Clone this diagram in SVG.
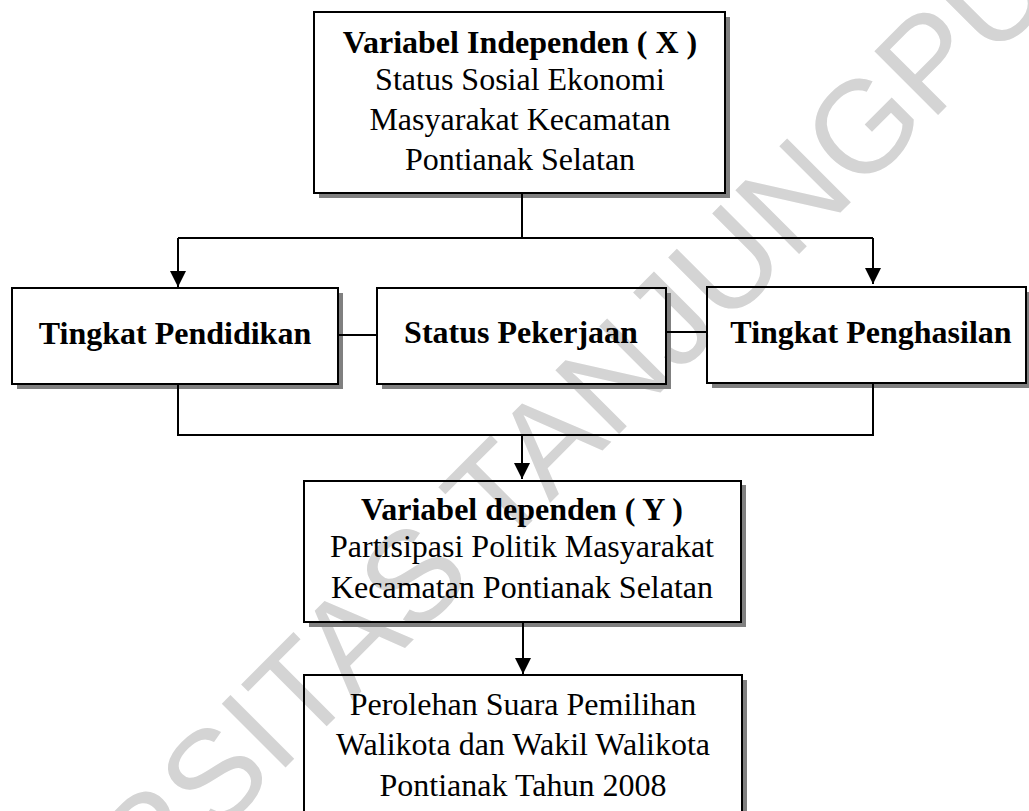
<svg xmlns="http://www.w3.org/2000/svg" width="1029" height="811" viewBox="0 0 1029 811">
<style>
.box{fill:none;stroke:#000;stroke-width:2}
.sh{fill:#808080}
.t{font-family:"Liberation Serif","Times New Roman",serif;font-size:32px;fill:#000;text-anchor:middle}
.b{font-weight:bold}
.c{fill:none;stroke:#000;stroke-width:2}
.wm{font-family:"Liberation Sans",Arial,sans-serif;font-size:131px;fill:#d4d4d4;text-anchor:middle}
</style>
<defs>
<marker id="ah" markerUnits="userSpaceOnUse" markerWidth="16" markerHeight="16" viewBox="0 0 16 16" refX="16" refY="8" orient="auto">
<path d="M0,0 L16,8 L0,16 Z" fill="#000"/>
</marker>
</defs>
<rect width="1029" height="811" fill="#fff"/>
<text class="wm" transform="translate(526.5,526.5) rotate(-45)">UNIVERSITAS TANJUNGPURA</text>
<g id="x-box">
<path class="sh" d="M725,17 H730 V198 H319 V193 H725 Z"/>
<rect class="box" x="314" y="12" width="411" height="181"/>
<text class="t b" x="520" y="53">Variabel Independen ( X )</text>
<text class="t" x="520" y="90">Status Sosial Ekonomi</text>
<text class="t" x="520" y="130">Masyarakat Kecamatan</text>
<text class="t" x="520" y="170">Pontianak Selatan</text>
</g>
<g id="pendidikan">
<path class="sh" d="M338,293 H343 V389 H17 V384 H338 Z"/>
<rect class="box" x="12" y="288" width="326" height="96"/>
<text class="t b" x="175" y="344">Tingkat Pendidikan</text>
</g>
<g id="pekerjaan">
<path class="sh" d="M666,293 H671 V389 H382 V384 H666 Z"/>
<rect class="box" x="377" y="288" width="289" height="96"/>
<text class="t b" x="521" y="343">Status Pekerjaan</text>
</g>
<g id="penghasilan">
<path class="sh" d="M1026,292 H1031 V388 H712 V383 H1026 Z"/>
<rect class="box" x="707" y="287" width="319" height="96"/>
<text class="t b" x="871" y="343">Tingkat Penghasilan</text>
</g>
<g id="y-box">
<path class="sh" d="M741,485 H746 V627 H309 V622 H741 Z"/>
<rect class="box" x="304" y="481" width="437" height="141"/>
<text class="t b" x="522" y="520">Variabel dependen ( Y )</text>
<text class="t" x="522" y="557">Partisipasi Politik Masyarakat</text>
<text class="t" x="522" y="598">Kecamatan Pontianak Selatan</text>
</g>
<g id="hasil">
<path class="sh" d="M742,680 H747 V812 H742 Z"/>
<rect class="box" x="304" y="675" width="438" height="150"/>
<text class="t" x="523" y="715">Perolehan Suara Pemilihan</text>
<text class="t" x="523" y="755">Walikota dan Wakil Walikota</text>
<text class="t" x="523" y="796">Pontianak Tahun 2008</text>
</g>
<g id="connectors">
<path class="c" d="M522,193 V238"/>
<path class="c" d="M178,238 H873"/>
<path class="c" d="M178,238 V287" marker-end="url(#ah)"/>
<path class="c" d="M873,238 V284" marker-end="url(#ah)"/>
<path class="c" d="M338,335 H377"/>
<path class="c" d="M666,332 H707"/>
<path class="c" d="M178,384 V435 H873 V383"/>
<path class="c" d="M522,435 V479" marker-end="url(#ah)"/>
<path class="c" d="M523,622 V674" marker-end="url(#ah)"/>
</g>
</svg>
